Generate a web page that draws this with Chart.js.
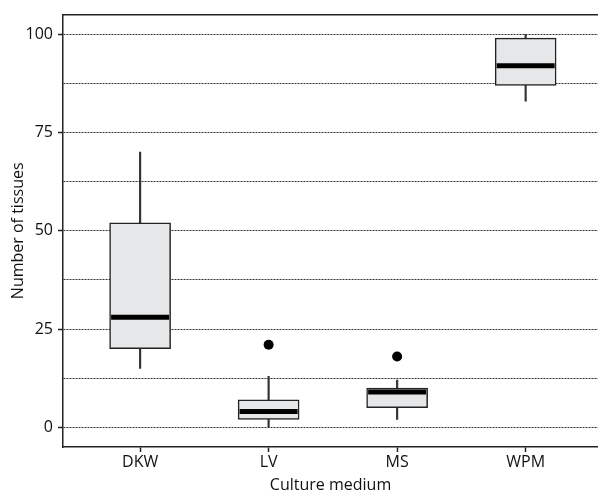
<!DOCTYPE html>
<html>
<head>
<meta charset="utf-8">
<script src="https://cdn.jsdelivr.net/npm/chart.js@4.4.1/dist/chart.umd.min.js"></script>
<style>
  html, body { margin: 0; padding: 0; background: #fff; overflow: hidden; }
  #wrap { width: 598px; height: 496px; position: relative; }
</style>
</head>
<body>
<div id="wrap"><canvas id="boxChart"></canvas></div>
<script>
// Données
const categories = ['DKW', 'LV', 'MS', 'WPM'];
const whiskerLow = [15, 0, 2, 83];
const quartile1 = [20, 2, 5, 87];
const medians = [28, 4, 9, 92];
const quartile3 = [52, 7, 10, 99];
const whiskerHigh = [70, 13, 12, 100];
const outlierIndex = [1, 2];
const outlierValues = [21, 18];
const yTickValues = [0, 12.5, 25, 37.5, 50, 62.5, 75, 87.5, 100];

const fontFamily = '"Open Sans", sans-serif';
const ink = '#222';

const positions = categories.map(function(c, i) { return i; });

var ctx = document.getElementById('boxChart').getContext('2d');

window.myChart = new Chart(ctx, {
  type: 'bar',
  data: {
    datasets: [
      {
        // moustaches
        label: 'whiskers',
        data: positions.map(i => ({ x: i, y: [whiskerLow[i], whiskerHigh[i]] })),
        backgroundColor: '#333',
        borderWidth: 0,
        barThickness: 1.5,
        grouped: false,
        order: 4
      },
      {
        // boîtes
        label: 'boxes',
        data: positions.map(i => ({ x: i, y: [quartile1[i], quartile3[i]] })),
        backgroundColor: '#e6e7e8',
        borderColor: ink,
        borderWidth: 1.5,
        borderSkipped: false,
        barThickness: 61,
        grouped: false,
        order: 3
      },
      {
        // médianes
        type: 'scatter',
        label: 'medians',
        data: positions.map(i => ({ x: i, y: medians[i] })),
        pointStyle: 'line',
        radius: 29,
        borderWidth: 5,
        borderColor: '#000',
        order: 2
      },
      {
        // valeurs aberrantes
        type: 'scatter',
        label: 'outliers',
        data: outlierIndex.map((c, k) => ({ x: c, y: outlierValues[k] })),
        pointStyle: 'circle',
        radius: 5,
        backgroundColor: '#000',
        borderWidth: 0,
        order: 1
      }
    ]
  },
  options: {
    responsive: true,
    maintainAspectRatio: false,
    animation: false,
    events: [],
    layout: { padding: 0, autoPadding: false },
    plugins: {
      legend: { display: false },
      tooltip: { enabled: false }
    },
    scales: {
      x: {
        type: 'linear',
        position: 'bottom',
        min: -0.6,
        max: 3.563,
        offset: false,
        afterBuildTicks: function(scale) {
          scale.ticks = positions.map(v => ({ value: v }));
        },
        afterFit: function(scale) { scale.height = 49; },
        ticks: {
          callback: function(value) { return categories[value]; },
          color: '#111',
          font: { family: fontFamily, size: 16 },
          padding: 1,
          maxRotation: 0,
          autoSkip: false
        },
        grid: {
          offset: false,
          drawOnChartArea: false,
          drawTicks: true,
          tickLength: 5,
          tickColor: ink,
          tickWidth: 1.5
        },
        border: { display: true, color: ink, width: 1.5 },
        title: {
          display: true,
          text: 'Culture medium',
          color: '#111',
          font: { family: fontFamily, size: 16 },
          padding: { top: 0, bottom: 1 }
        }
      },
      x2: {
        type: 'linear',
        position: 'top',
        display: true,
        min: -0.6,
        max: 3.563,
        afterFit: function(scale) { scale.height = 14; },
        ticks: { display: false },
        grid: { display: true, drawOnChartArea: false, drawTicks: false },
        border: { display: true, color: ink, width: 1.5 }
      },
      y: {
        type: 'linear',
        min: -5,
        max: 105,
        afterBuildTicks: function(scale) {
          scale.ticks = yTickValues.map(v => ({ value: v }));
        },
        afterFit: function(scale) { scale.width = 63; },
        ticks: {
          callback: function(value) { return value % 25 === 0 ? value : ''; },
          color: '#111',
          font: { family: fontFamily, size: 16 },
          padding: 5
        },
        grid: {
          color: '#333',
          lineWidth: 1,
          drawTicks: true,
          tickLength: 5,
          tickWidth: 1.5,
          tickColor: function(c) {
            return c.tick && c.tick.value % 25 === 0 ? ink : 'rgba(0,0,0,0)';
          }
        },
        border: { display: true, color: ink, width: 1.5, dash: [2, 1] },
        title: {
          display: true,
          text: 'Number of tissues',
          color: '#111',
          font: { family: fontFamily, size: 16 },
          padding: { top: 9, bottom: 0 }
        }
      }
    }
  }
});
</script>
</body>
</html>
